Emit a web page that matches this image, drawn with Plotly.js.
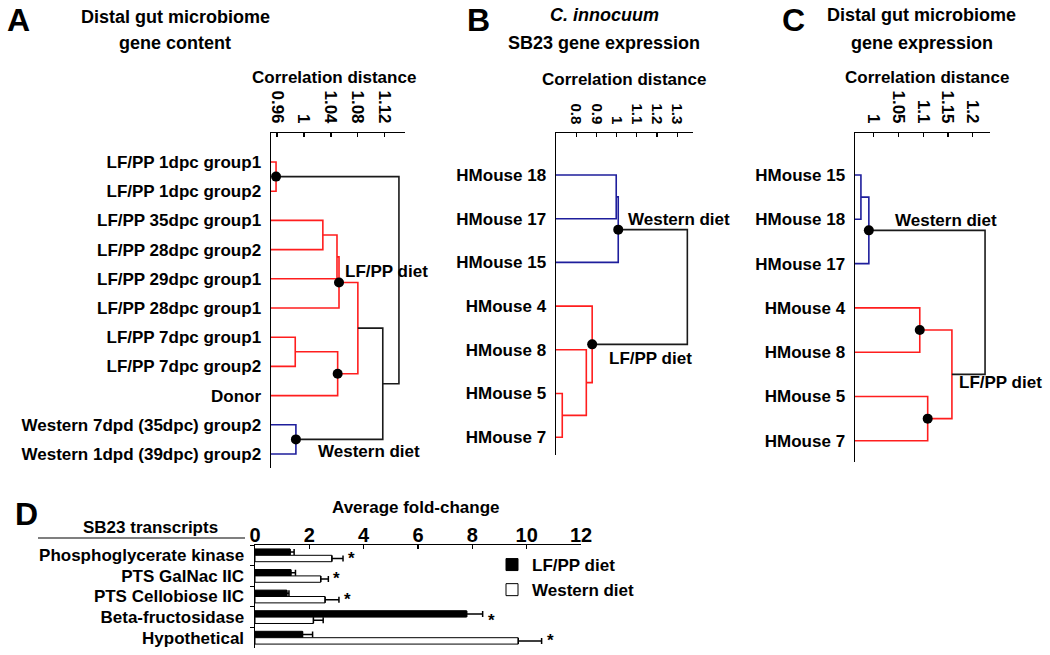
<!DOCTYPE html>
<html><head><meta charset="utf-8">
<script src="https://cdn.plot.ly/plotly-3.0.1.min.js"></script>
<style>html,body{margin:0;padding:0;background:#fff}#chart{width:1050px;height:655px}</style>
</head><body><div id="chart"></div>
<script>
// ---------- Panel A: Distal gut microbiome gene content ----------
const leavesA = ["LF/PP 1dpc group1","LF/PP 1dpc group2","LF/PP 35dpc group1","LF/PP 28dpc group2","LF/PP 29dpc group1","LF/PP 28dpc group1","LF/PP 7dpc group1","LF/PP 7dpc group2","Donor","Western 7dpd (35dpc) group2","Western 1dpd (39dpc) group2"];
// [left, right, correlation distance]; index >= leaves.length refers to an earlier merge
const mergesA = [[0,1,0.9585],[2,3,1.028],[12,4,1.049],[13,5,1.052],[6,7,0.987],[15,8,1.050],[14,16,1.080],[9,10,0.988],[17,18,1.117],[11,19,1.141]];
const groupsA = ["lfpp","lfpp","lfpp","lfpp","lfpp","lfpp","lfpp","western","joint","joint"];
const nodesA = [0,3,5,7];
const ticksA = [0.96,1,1.04,1.08,1.12];
const tickTextA = ["0.96","1","1.04","1.08","1.12"];

// ---------- Panel B: C. innocuum SB23 gene expression ----------
const leavesB = ["HMouse 18","HMouse 17","HMouse 15","HMouse 4","HMouse 8","HMouse 5","HMouse 7"];
const mergesB = [[0,1,0.998],[7,2,1.008],[5,6,0.731],[4,9,0.85],[3,10,0.879],[8,11,1.35]];
const groupsB = ["western","western","lfpp","lfpp","lfpp","joint"];
const nodesB = [1,4];
const ticksB = [0.8,0.9,1,1.1,1.2,1.3];
const tickTextB = ["0.8","0.9","1","1.1","1.2","1.3"];

// ---------- Panel C: Distal gut microbiome gene expression ----------
const leavesC = ["HMouse 15","HMouse 18","HMouse 17","HMouse 4","HMouse 8","HMouse 5","HMouse 7"];
const mergesC = [[0,1,0.974],[7,2,0.990],[3,4,1.093],[5,6,1.109],[9,10,1.158],[8,11,1.225]];
const groupsC = ["western","western","lfpp","lfpp","lfpp","joint"];
const nodesC = [1,2,3];
const ticksC = [1,1.05,1.1,1.15,1.2];
const tickTextC = ["1","1.05","1.1","1.15","1.2"];

// ---------- Panel D: SB23 transcripts ----------
const transcripts = ["Phosphoglycerate kinase","PTS GalNac IIC","PTS Cellobiose IIC","Beta-fructosidase","Hypothetical"];
const lfppFold = [1.29,1.32,1.17,7.79,1.75];
const lfppErr = [0.15,0.17,0.08,0.59,0.37];
const westernFold = [2.83,2.42,2.58,2.15,9.69];
const westernErr = [0.41,0.28,0.51,0.36,0.86];
const significant = [true,true,true,true,true];
const foldTicks = [0,2,4,6,8,10,12];

// ---------- styling ----------
const FONT = "Liberation Sans, Arial, Helvetica, sans-serif";
const COLORS = {lfpp:"#ff1e1e", western:"#1e1e9c", joint:"#1a1a1a"};
const W = 1050, H = 655;
const fx = px => px / W, fy = py => 1 - py / H;

const rangeA = [0.951, 1.15], rangeB = [0.7, 1.378], rangeC = [0.962, 1.235];

function dendro(leaves, merges, groups, nodes, base, xa, ya) {
  const pos = leaves.map((_, i) => i);
  const hgt = leaves.map(() => base);
  const segs = {};
  merges.forEach(([a, b, d], k) => {
    const g = groups[k];
    if (!segs[g]) segs[g] = {x: [], y: []};
    segs[g].x.push(hgt[a], d, d, hgt[b], null);
    segs[g].y.push(pos[a], pos[a], pos[b], pos[b], null);
    pos.push((pos[a] + pos[b]) / 2);
    hgt.push(d);
  });
  const n = leaves.length;
  const traces = Object.keys(segs).map(g => ({
    type: "scatter", mode: "lines", x: segs[g].x, y: segs[g].y,
    xaxis: xa, yaxis: ya, line: {color: COLORS[g], width: 1.6},
    showlegend: false, hoverinfo: "skip"
  }));
  traces.push({
    type: "scatter", mode: "markers",
    x: nodes.map(k => hgt[n + k]), y: nodes.map(k => pos[n + k]),
    xaxis: xa, yaxis: ya, marker: {color: "#000", size: 10},
    showlegend: false, hoverinfo: "skip"
  });
  return traces;
}

const traces = [
  ...dendro(leavesA, mergesA, groupsA, nodesA, rangeA[0], "x", "y"),
  ...dendro(leavesB, mergesB, groupsB, nodesB, rangeB[0], "x2", "y2"),
  ...dendro(leavesC, mergesC, groupsC, nodesC, rangeC[0], "x3", "y3"),
  {
    type: "bar", orientation: "h", name: "LF/PP diet", x: lfppFold, y: transcripts,
    xaxis: "x4", yaxis: "y4", marker: {color: "#000", line: {color: "#000", width: 1}},
    error_x: {type: "data", symmetric: false, array: lfppErr, arrayminus: lfppErr.map(() => 0), color: "#000", thickness: 1.5, width: 3},
    hoverinfo: "skip"
  },
  {
    type: "bar", orientation: "h", name: "Western diet", x: westernFold, y: transcripts,
    xaxis: "x4", yaxis: "y4", marker: {color: "#fff", line: {color: "#000", width: 1}},
    error_x: {type: "data", symmetric: false, array: westernErr, arrayminus: westernErr.map(() => 0), color: "#000", thickness: 1.5, width: 3},
    hoverinfo: "skip"
  }
];

function dendroX(dom, range, vals, text, size) {
  return {
    domain: dom, range: range, side: "top", tickvals: vals, ticktext: text, tickangle: 90,
    ticks: "inside", ticklen: 4, tickwidth: 1.2, tickcolor: "#000",
    showline: true, linecolor: "#000", linewidth: 1.5, showgrid: false, zeroline: false,
    automargin: false, fixedrange: true, ticklabelstandoff: 2,
    tickfont: {family: FONT, size: size, color: "#000", weight: 700}
  };
}
function dendroY(dom, range, leaves) {
  return {
    domain: dom, range: range, tickvals: leaves.map((_, i) => i), ticktext: leaves,
    ticks: "", showline: true, linecolor: "#000", linewidth: 1.5, showgrid: false, zeroline: false,
    automargin: false, fixedrange: true, ticklabelstandoff: 5,
    tickfont: {family: FONT, size: 17, color: "#000", weight: 700}
  };
}

function ann(text, px, py, size, xanchor, extra) {
  return Object.assign({
    text: text, xref: "paper", yref: "paper", x: fx(px), y: fy(py),
    xanchor: xanchor || "center", yanchor: "middle", showarrow: false,
    font: {family: FONT, size: size, color: "#000", weight: 700}
  }, extra || {});
}

const annotations = [
  ann("A", 18, 20, 32), ann("B", 478, 20, 32), ann("C", 793, 20, 32), ann("D", 26, 514, 32),
  ann("Distal gut microbiome", 175, 17, 18), ann("gene content", 175, 43, 18),
  ann("<i>C. innocuum</i>", 604, 15, 18), ann("SB23 gene expression", 604, 43, 18),
  ann("Distal gut microbiome", 922, 15, 18), ann("gene expression", 922, 43, 18),
  ann("Correlation distance", 334, 78, 17), ann("Correlation distance", 624, 79, 17), ann("Correlation distance", 927, 78, 17),
  ann("LF/PP diet", 343, 272, 17, "left"), ann("Western diet", 316, 452, 17, "left"),
  ann("Western diet", 626, 219, 17, "left"), ann("LF/PP diet", 607, 358, 17, "left"),
  ann("Western diet", 893, 221, 17, "left"), ann("LF/PP diet", 957, 383, 17, "left"),
  ann("Average fold-change", 416, 507, 17), ann("SB23 transcripts", 150, 527, 17)
];
transcripts.forEach((t, i) => {
  if (!significant[i]) return;
  annotations.push({
    text: "*", xref: "x4", yref: "y4",
    x: Math.max(lfppFold[i] + lfppErr[i], westernFold[i] + westernErr[i]), y: t,
    xanchor: "left", yanchor: "middle", xshift: 3, yshift: -3, showarrow: false,
    font: {family: FONT, size: 17, color: "#000", weight: 700}
  });
});

const layout = {
  width: W, height: H, margin: {l: 0, r: 0, t: 0, b: 0},
  paper_bgcolor: "#fff", plot_bgcolor: "rgba(0,0,0,0)",
  font: {family: FONT, color: "#000"},
  xaxis: dendroX([fx(271), fx(405)], rangeA, ticksA, tickTextA, 17),
  yaxis: Object.assign(dendroY([fy(468), fy(133)], [10.479, -0.993], leavesA), {anchor: "x"}),
  xaxis2: Object.assign(dendroX([fx(556), fx(693)], rangeB, ticksB, tickTextB, 15), {anchor: "y2"}),
  yaxis2: Object.assign(dendroY([fy(455), fy(133)], [6.407, -0.961], leavesB), {anchor: "x2"}),
  xaxis3: Object.assign(dendroX([fx(855), fx(990)], rangeC, ticksC, tickTextC, 17), {anchor: "y3"}),
  yaxis3: Object.assign(dendroY([fy(462), fy(133)], [6.479, -0.948], leavesC), {anchor: "x3"}),
  xaxis4: {
    domain: [fx(255), fx(581)], range: [0, 12], side: "top", anchor: "y4",
    tickvals: foldTicks, ticks: "inside", ticklen: 4, tickcolor: "#000", tickwidth: 1.2,
    showline: true, linecolor: "#000", linewidth: 1.5, showgrid: false, zeroline: false,
    automargin: false, fixedrange: true, ticklabelstandoff: -6,
    tickfont: {family: FONT, size: 20, color: "#000", weight: 700}
  },
  yaxis4: {
    domain: [fy(648), fy(545)], type: "category", range: [4.5, -0.5], anchor: "x4",
    tickson: "boundaries", ticks: "outside", ticklen: 4, tickcolor: "#000",
    showline: true, linecolor: "#000", linewidth: 1.5, showgrid: false, zeroline: false,
    automargin: false, fixedrange: true, ticklabelstandoff: 6,
    tickfont: {family: FONT, size: 17, color: "#000", weight: 700}
  },
  barmode: "group", bargap: 0.38, bargroupgap: 0,
  showlegend: true,
  legend: {
    x: fx(492), y: fy(547), xanchor: "left", yanchor: "top", bgcolor: "rgba(0,0,0,0)",
    itemwidth: 30, tracegroupgap: 0, traceorder: "normal",
    font: {family: FONT, size: 17, color: "#000", weight: 700}
  },
  shapes: [
    {type: "line", xref: "paper", yref: "paper", x0: fx(38), x1: fx(245), y0: fy(538), y1: fy(538), line: {color: "#000", width: 1.2}}
  ],
  annotations: annotations
};

Plotly.newPlot("chart", traces, layout, {staticPlot: true, displayModeBar: false});
</script>
</body></html>
